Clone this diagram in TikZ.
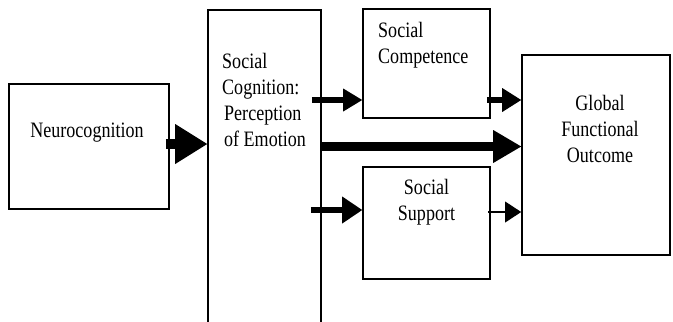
\documentclass[tikz,border=0pt]{standalone}
\usepackage{fontspec}
\setmainfont[FakeStretch=0.82]{Liberation Serif}
\usetikzlibrary{arrows.meta,calc}

\begin{document}
\begin{tikzpicture}[x=1bp,y=-1bp,
  box/.style={draw=black,line width=1.6bp,fill=none,inner sep=0pt,anchor=center},
  lbl/.style={inner sep=0pt,font=\fontsize{22bp}{26bp}\selectfont},
  flow/.style args={#1/#2/#3}{draw=black,line width=#1,
    -{Triangle[length=#2,width=#3,line width=0pt]}}
]
\useasboundingbox (0,0) rectangle (673,321);

% boxes
\node[box,minimum width=160bp,minimum height=125bp] (neuro) at (89,146.5) {};
\node[box,minimum width=113bp,minimum height=330bp] (cog) at (264.5,175) {};
\node[box,minimum width=127bp,minimum height=109bp] (comp) at (426.5,63.5) {};
\node[box,minimum width=127bp,minimum height=112bp] (supp) at (426.5,223) {};
\node[box,minimum width=148bp,minimum height=200bp] (glob) at (596,155) {};

% box texts
\node[lbl] (neurotxt) at (87,133) {Neurocognition};
\node[lbl,align=left,anchor=west] (cogtxt) at (222,100)
  {Social\\Cognition:\\\hspace*{2bp}Perception\\\hspace*{2bp}of Emotion};
\node[lbl,align=left,anchor=west] (comptxt) at (378,45.5) {Social\\Competence};
\node[lbl,align=center] (supptxt) at (426.5,202) {Social\\Support};
\node[lbl,align=center] (globtxt) at (600,129) {Global\\Functional\\Outcome};

% connectors
\draw[flow={10bp/32bp/40bp}] ($(neuro.east |- 0,144)+(-4,0)$) -- (cog.west |- 0,144);
\draw[flow={6.5bp/19bp/23bp}] ($(cog.east |- 0,100)+(-10,0)$) -- (comp.west |- 0,100);
\draw[flow={5.5bp/19bp/24bp}] ($(comp.east |- 0,100)+(-4,0)$) -- (glob.west |- 0,100);
\draw[flow={9.5bp/28bp/33bp}] (cog.east |- 0,146.5) -- (glob.west |- 0,146.5);
\draw[flow={5.5bp/20bp/27bp}] ($(cog.east |- 0,210)+(-11,0)$) -- (supp.west |- 0,210);
\draw[flow={1.5bp/16bp/21bp}] ($(supp.east |- 0,212)+(-3,0)$) -- (glob.west |- 0,212);
\end{tikzpicture}
\end{document}
